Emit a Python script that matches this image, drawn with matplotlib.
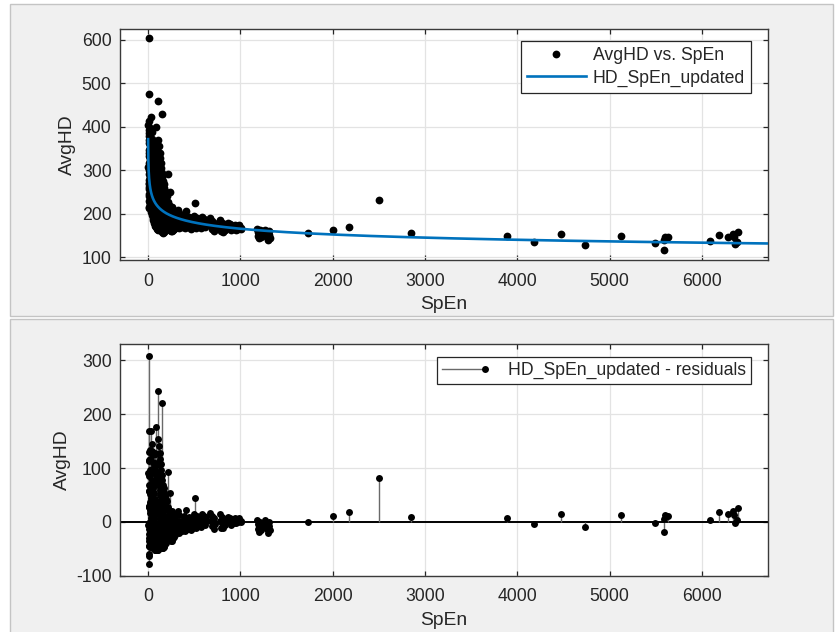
import numpy as np
import matplotlib
matplotlib.use("Agg")
import matplotlib.pyplot as plt
from matplotlib.patches import Rectangle
from matplotlib.lines import Line2D
from matplotlib.legend_handler import HandlerBase

plt.rcParams['font.family'] = ['Liberation Sans', 'DejaVu Sans']
plt.rcParams['axes.unicode_minus'] = False

# ---- data: SpEn (x) and AvgHD (y) ----
near0_x = [8, 6, 29, 11, 5, 20, 14, 16, 9, 24, 7, 13, 18, 27, 10, 12, 6, 22, 17, 10,
           31, 5, 15, 25, 8, 18, 7, 33, 12, 21, 9, 28, 14, 6, 23, 10, 17, 26, 13, 9,
           32, 19, 34, 16, 30, 24, 36, 38, 11, 20]
near0_y = [605, 476, 422, 414, 405, 398, 392, 386, 380, 376, 370, 364, 358, 352, 346, 340, 334, 329, 323, 318,
           313, 307, 302, 296, 291, 285, 279, 274, 268, 263, 257, 251, 246, 262, 235, 229, 224, 230, 216, 213,
           258, 300, 345, 270, 238, 282, 225, 310, 240, 222]

low_x = [105, 87, 40, 45, 52, 58, 63, 70, 76, 82, 90, 96, 102, 108,
         38, 42, 48, 55, 61, 66, 72, 78, 84, 92, 99, 106,
         37, 44, 50, 57, 64, 71, 79, 86, 94, 101, 109,
         39, 47, 53, 59, 68, 74, 81, 89, 97, 104,
         41, 46, 54, 62, 69, 77, 85, 93, 100, 56, 65, 83, 95, 73, 91]
low_y = [460, 399, 388, 372, 360, 345, 338, 330, 322, 315, 308, 300, 292, 285,
         290, 275, 262, 250, 240, 232, 226, 220, 214, 208, 202, 196,
         205, 198, 190, 185, 180, 176, 172, 170, 168, 166, 164,
         335, 318, 305, 295, 282, 270, 258, 248, 240, 232,
         230, 245, 218, 205, 195, 188, 182, 178, 175, 270, 262, 350, 330, 355, 245]

mid_x = [148, 112, 118, 125, 131, 137, 143, 150, 157, 163, 170, 178, 185, 193,
         115, 121, 127, 134, 140, 146, 153, 160, 166, 173, 181, 188, 196,
         113, 119, 126, 132, 139, 145, 152, 159, 165, 172, 179, 186, 194,
         116, 123, 129, 136, 142, 149, 156, 162, 169, 176, 183, 190, 198,
         117, 128, 138, 155, 175, 195, 122, 144, 168, 189]
mid_y = [429, 370, 355, 340, 328, 318, 305, 295, 285, 275, 268, 260, 252, 245,
         300, 285, 272, 262, 250, 240, 232, 226, 220, 214, 208, 204, 200,
         240, 228, 218, 210, 204, 198, 192, 186, 182, 178, 174, 171, 168,
         190, 180, 172, 166, 162, 160, 158, 157, 158, 160, 162, 164, 166,
         320, 305, 288, 262, 240, 225, 250, 270, 195, 185]

knee_x = [220, 238, 205, 212, 226, 232, 245, 252, 260, 268, 276, 284, 292, 300, 310, 320, 332, 345,
          203, 210, 218, 225, 233, 241, 249, 257, 265, 273, 281, 289, 297, 306, 316, 327, 340,
          208, 215, 230, 248, 262, 280, 298, 318, 335, 348, 258, 272, 286, 302, 322]
knee_y = [291, 251, 240, 228, 220, 212, 205, 200, 196, 192, 190, 188, 186, 184, 182, 180, 178, 176,
          190, 182, 176, 170, 166, 163, 161, 160, 162, 164, 166, 168, 170, 172, 174, 170, 168,
          208, 200, 195, 186, 178, 176, 174, 192, 202, 185, 215, 208, 200, 205, 210]

band_x = [408, 509, 355, 362, 370, 378, 386, 394, 402, 415, 423, 431, 440, 448, 456, 465, 473, 481,
          490, 498, 506, 515, 522, 530, 538, 547, 555, 563, 571, 580, 588, 596, 605, 613, 622, 630, 639,
          672, 680, 688, 696, 705, 712, 720, 726,
          775, 782, 790, 798, 806, 814, 822, 830,
          870, 880, 892, 904, 916, 928, 940, 952,
          965, 978, 990, 1003, 1012,
          1180, 1188, 1195, 1202, 1210, 1218, 1225, 1240, 1255, 1270, 1285, 1292, 1300, 1308, 1315, 1322]
band_y = [207, 224, 190, 178, 170, 184, 196, 175, 168, 188, 178, 170, 192, 182, 172, 166, 186, 178,
          170, 195, 184, 176, 168, 190, 180, 172, 186, 176, 168, 192, 182, 174, 188, 178, 170, 184, 176,
          190, 176, 165, 184, 172, 160, 180, 168,
          186, 172, 160, 180, 168, 158, 176, 164,
          178, 168, 176, 162, 172, 166, 174, 164,
          172, 166, 174, 168, 165,
          166, 158, 150, 144, 162, 154, 146, 160, 152, 164, 156, 148, 140, 160, 152, 145]

far_x = [1737, 2001, 2181, 2499, 2846, 3886, 4182, 4478, 4735, 5118, 5486, 5587, 5601, 5626, 5590,
         6085, 6186, 6284, 6335, 6389, 6360, 6378, 6342]
far_y = [155, 163, 169, 231, 155, 149, 135, 154, 128, 150, 134, 117, 147, 146, 141,
         137, 152, 147, 154, 159, 131, 136, 146]

# power-law fit HD_SpEn_updated: AvgHD = a * SpEn^b
fit_a = 380.0
fit_b = -0.12

spen = np.array(near0_x + low_x + mid_x + knee_x + band_x + far_x, dtype=float)
avghd = np.array(near0_y + low_y + mid_y + knee_y + band_y + far_y, dtype=float)


def hd_fit(x):
    return fit_a * np.power(x, fit_b)


residuals = avghd - hd_fit(spen)

# ---- figure ----
W, H = 838, 632
fig = plt.figure(figsize=(W / 100, H / 100), dpi=100, facecolor='white')


def px_rect(x0, y0, x1, y1):
    return (x0 / W, 1 - y1 / H, (x1 - x0) / W, (y1 - y0) / H)


for (x0, y0, x1, y1) in [(10, 4, 833, 316), (10, 319, 833, 640)]:
    l, b, w, h = px_rect(x0, y0, x1, y1)
    fig.patches.append(Rectangle((l, b), w, h, transform=fig.transFigure,
                                 facecolor='#f0f0f0', edgecolor='#c4c4c4',
                                 linewidth=1.0, zorder=-5))

ink = '#262626'
tick_fs = 12.7
label_fs = 13.9

ax1 = fig.add_axes(px_rect(120, 29, 767.7, 260))
ax2 = fig.add_axes(px_rect(120, 344.3, 767.7, 575.7))

for ax in (ax1, ax2):
    ax.set_facecolor('white')
    ax.grid(True, color='#e3e3e3', linewidth=0.9)
    ax.set_axisbelow(True)
    for s in ax.spines.values():
        s.set_color('#3a3a3a')
        s.set_linewidth(1.0)
    ax.tick_params(direction='in', length=3.5, width=0.9, colors=ink,
                   labelsize=tick_fs, top=True, right=True)
    ax.tick_params(axis='x', pad=9)
    ax.tick_params(axis='y', pad=6)
    ax.set_xlim(-303, 6711)
    ax.set_xticks(np.arange(0, 7000, 1000))
    ax.set_xlabel('SpEn', fontsize=label_fs, color=ink, labelpad=5)
    ax.set_ylabel('AvgHD', fontsize=label_fs, color=ink, labelpad=4)

# top: data and fitted curve
ax1.plot(spen, avghd, 'o', color='black', markersize=5.6, markeredgewidth=0,
         label='AvgHD vs. SpEn', zorder=3)
curve_x = np.geomspace(1.2, 6711, 600)
ax1.plot(curve_x, hd_fit(curve_x), color='#0072BD', linewidth=1.9,
         label='HD_SpEn_updated', zorder=4)
ax1.set_ylim(94, 625)
ax1.set_yticks(np.arange(100, 700, 100))
leg1 = ax1.legend(loc='upper right', bbox_to_anchor=(751 / W, 1 - 41 / H),
                  bbox_transform=fig.transFigure, borderaxespad=0,
                  fontsize=tick_fs, frameon=True, fancybox=False,
                  edgecolor=ink, framealpha=1, handlelength=3.3,
                  handletextpad=0.4, borderpad=0.35, labelspacing=0.3)
leg1.get_frame().set_linewidth(0.9)
for t in leg1.get_texts():
    t.set_color(ink)

# bottom: residual stems
ax2.axhline(0, color='black', linewidth=1.4, zorder=2)
ax2.vlines(spen, 0, residuals, colors='#6a6a6a', linewidth=1.0, zorder=2)
ax2.plot(spen, residuals, 'o', color='black', markersize=5.0,
         markeredgewidth=0, zorder=3)
ax2.set_ylim(-100, 330)
ax2.set_yticks(np.arange(-100, 400, 100))


class StemHandler(HandlerBase):
    def create_artists(self, legend, orig_handle, xdescent, ydescent,
                       width, height, fontsize, trans):
        y = height / 2 - ydescent
        line = Line2D([-xdescent, -xdescent + width], [y, y],
                      color='#6a6a6a', linewidth=1.0)
        dot = Line2D([-xdescent + width], [y], marker='o', color='black',
                     markersize=5.0, markeredgewidth=0, linestyle='none')
        line.set_transform(trans)
        dot.set_transform(trans)
        return [line, dot]


stem_key = Line2D([], [])
leg2 = ax2.legend([stem_key], ['HD_SpEn_updated - residuals'],
                  handler_map={Line2D: StemHandler()},
                  loc='upper right', bbox_to_anchor=(751 / W, 1 - 356.7 / H),
                  bbox_transform=fig.transFigure, borderaxespad=0,
                  fontsize=tick_fs, frameon=True, fancybox=False,
                  edgecolor=ink, framealpha=1, handlelength=2.4,
                  handletextpad=1.3, borderpad=0.3)
leg2.get_frame().set_linewidth(0.9)
for t in leg2.get_texts():
    t.set_color(ink)

fig.savefig('out.png', dpi=100, facecolor=fig.get_facecolor())
